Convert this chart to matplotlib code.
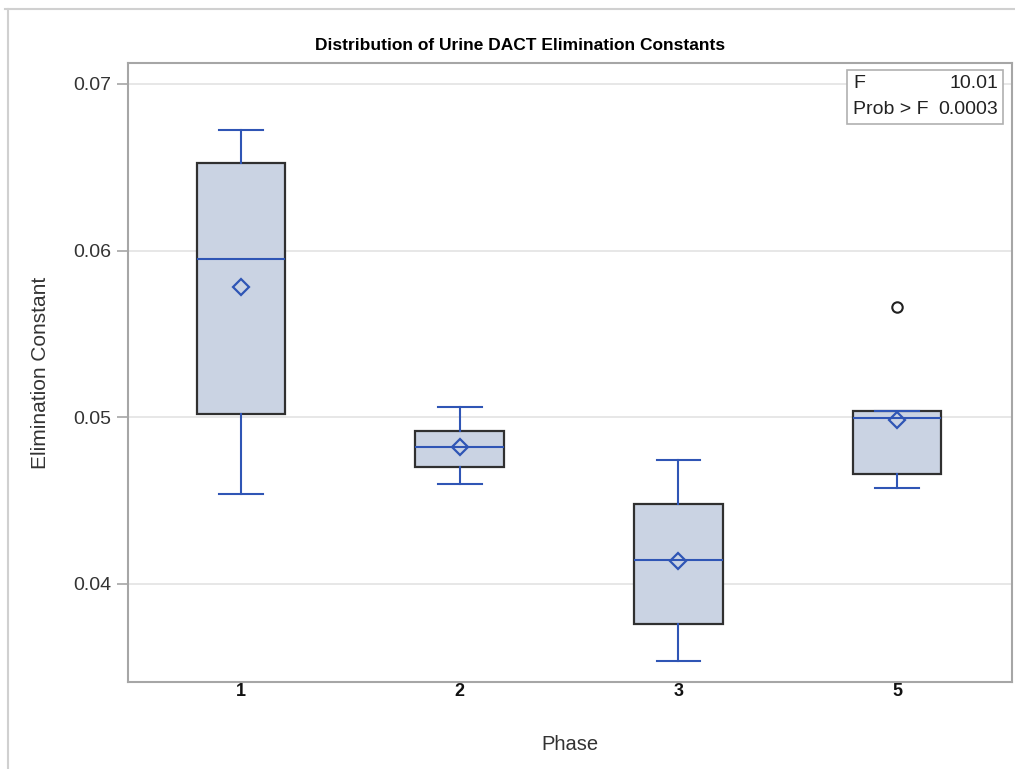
import numpy as np
import matplotlib.pyplot as plt
from matplotlib.lines import Line2D

# Estatísticas das caixas por fase
phases = ['1', '2', '3', '5']
whis_lo = [0.0454, 0.0460, 0.03538, 0.04576]
q1 = [0.0502, 0.04702, 0.0376, 0.0466]
med = [0.0595, 0.04822, 0.04144, 0.04996]
q3 = [0.06526, 0.04918, 0.0448, 0.05038]
whis_hi = [0.06724, 0.05062, 0.04744, 0.05038]
means = [0.05782, 0.0482, 0.0414, 0.04986]
outliers = [[], [], [], [0.05662]]

# ANOVA
f_value = '10.01'
p_value = '0.0003'

azul = '#2f55b5'
caixa = '#cad3e3'
cinza = '#a6a6a6'

plt.rcParams['font.family'] = ['Liberation Sans', 'DejaVu Sans']

fig = plt.figure(figsize=(10.15, 7.69), dpi=100)
ax = fig.add_axes([128/1015, 1 - 682/769, (1012 - 128)/1015, (682 - 63)/769])

stats = []
for i in range(len(phases)):
    stats.append(dict(med=med[i], q1=q1[i], q3=q3[i], whislo=whis_lo[i],
                      whishi=whis_hi[i], mean=means[i], fliers=outliers[i]))

ax.bxp(stats, positions=np.arange(len(phases)), widths=0.405, patch_artist=True,
       showmeans=True, shownotches=False,
       boxprops=dict(facecolor=caixa, edgecolor='#303030', linewidth=1.6),
       whiskerprops=dict(color=azul, linewidth=1.5),
       capprops=dict(color=azul, linewidth=1.5),
       capwidths=0.2,
       medianprops=dict(color=azul, linewidth=1.5),
       meanprops=dict(marker='D', markerfacecolor='none', markeredgecolor=azul,
                      markeredgewidth=1.6, markersize=8.5),
       flierprops=dict(marker='o', markerfacecolor='none', markeredgecolor='#202020',
                       markeredgewidth=1.5, markersize=7.5))

# Eixos
ax.set_xlim(-0.516, 3.525)
ax.set_ylim(0.03412, 0.07126)
ax.set_yticks([0.04, 0.05, 0.06, 0.07])
ax.set_yticklabels(['0.04', '0.05', '0.06', '0.07'])
ax.set_xticks(np.arange(len(phases)))
ax.set_xticklabels(phases, fontweight='bold')
ax.tick_params(axis='x', length=0, labelsize=13, pad=1, labelcolor='#111111')
ax.tick_params(axis='y', length=8, width=1.2, color=cinza, labelsize=14,
               pad=4, labelcolor='#333333')
ax.yaxis.grid(True, color='#e3e3e3', linewidth=1.2)
ax.set_axisbelow(True)
for s in ax.spines.values():
    s.set_color(cinza)
    s.set_linewidth(1.5)

ax.set_ylabel('Elimination Constant', fontsize=15, color='#333333', labelpad=17)
ax.set_xlabel('Phase', fontsize=14.5, color='#333333', labelpad=25)

fig.text(520/1015, 1 - 46/769, 'Distribution of Urine DACT Elimination Constants',
         ha='center', va='center', fontsize=12.5, fontweight='bold',
         family=['Liberation Sans Narrow', 'Liberation Sans', 'DejaVu Sans'])

# Caixa com o teste F
bx0, bx1 = 847/1015, 1003/1015
by0, by1 = 1 - 124/769, 1 - 70/769
fig.patches.append(plt.Rectangle((bx0, by0), bx1 - bx0, by1 - by0,
                                 transform=fig.transFigure, facecolor='white',
                                 edgecolor='#b0b0b0', linewidth=1.2, zorder=5))
fig.text(bx0 + 6/1015, 1 - 84/769, 'F', fontsize=14, color='#222222', va='center', zorder=6)
fig.text(bx1 - 5/1015, 1 - 84/769, f_value, fontsize=14, color='#222222', va='center', ha='right', zorder=6)
fig.text(bx0 + 6/1015, 1 - 110/769, 'Prob > F', fontsize=14, color='#222222', va='center', zorder=6)
fig.text(bx1 - 5/1015, 1 - 110/769, p_value, fontsize=14, color='#222222', va='center', ha='right', zorder=6)

# Moldura externa
fig.add_artist(Line2D([8/1015, 8/1015], [0, 1 - 9/769], transform=fig.transFigure,
                      color='#d0d0d0', linewidth=1.5))
fig.add_artist(Line2D([5/1015, 1], [1 - 9/769, 1 - 9/769], transform=fig.transFigure,
                      color='#d0d0d0', linewidth=1.5))

plt.savefig('out.png', dpi=100)
